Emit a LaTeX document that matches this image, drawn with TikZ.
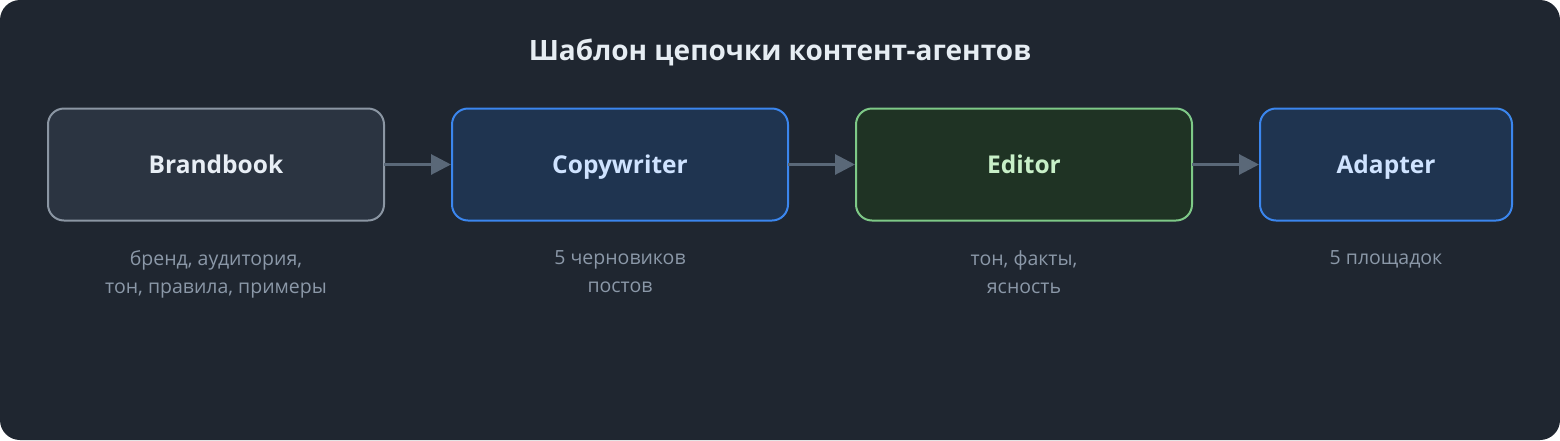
\documentclass[tikz,border=0pt]{standalone}
\usepackage{fontspec}
\setmainfont{Open Sans}
\usetikzlibrary{arrows.meta}
\definecolor{bgc}{HTML}{1F2630}
\definecolor{titlec}{HTML}{E6EDF3}
\definecolor{subc}{HTML}{8B98A8}
\definecolor{arrc}{HTML}{5A6878}
\definecolor{grayfill}{HTML}{2B3441}
\definecolor{graystroke}{HTML}{8B96A3}
\definecolor{bluefill}{HTML}{1F3450}
\definecolor{bluestroke}{HTML}{3B86EE}
\definecolor{greenfill}{HTML}{1F3324}
\definecolor{greenstroke}{HTML}{7EC987}
\definecolor{bluetext}{HTML}{CFE3FF}
\definecolor{greentext}{HTML}{C8F0C8}
\definecolor{whitetext}{HTML}{E8EEF5}
\tikzset{
  stagebox/.style={rounded corners=16pt, line width=2pt, minimum height=112pt, inner sep=0pt,
    text height=17.5pt, text depth=0pt,
    font=\fontsize{24.5}{28}\selectfont\bfseries},
  graybox/.style={stagebox, draw=graystroke, fill=grayfill, text=whitetext},
  bluebox/.style={stagebox, draw=bluestroke, fill=bluefill, text=bluetext},
  greenbox/.style={stagebox, draw=greenstroke, fill=greenfill, text=greentext},
  subtext/.style={text=subc, align=center, font=\fontsize{19.5}{28.5}\selectfont, anchor=north, inner sep=0pt},
  flow/.style={draw=arrc, line width=3pt, -{Triangle[length=20pt,width=20pt]}, shorten <=-1pt}
}
\begin{document}
\begin{tikzpicture}[x=1pt,y=-1pt]
\useasboundingbox (0,0) rectangle (1560,440);
\fill[white] (0,0) rectangle (1560,440);
\fill[bgc, rounded corners=20pt] (0,0) rectangle (1560,440);
\node[text=titlec, font=\fontsize{28}{32}\selectfont\bfseries, anchor=base, inner sep=0pt] (title) at (780,60) {Шаблон цепочки контент-агентов};
\node[graybox, minimum width=336pt] (b1) at (216,164.5) {Brandbook};
\node[bluebox, minimum width=336pt] (b2) at (620,164.5) {Copywriter};
\node[greenbox, minimum width=336pt] (b3) at (1024,164.5) {Editor};
\node[bluebox, minimum width=252pt] (b4) at (1386,164.5) {Adapter};
\draw[flow] (b1.east) -- (b2.west);
\draw[flow] (b2.east) -- (b3.west);
\draw[flow] (b3.east) -- (b4.west);
\node[subtext] (s1) at (216,250) {бренд, аудитория,\\тон, правила, примеры};
\node[subtext] (s2) at (620,250) {5 черновиков\\постов};
\node[subtext] (s3) at (1024,250) {тон, факты,\\ясность};
\node[subtext] (s4) at (1386,250) {5 площадок};
\end{tikzpicture}
\end{document}
